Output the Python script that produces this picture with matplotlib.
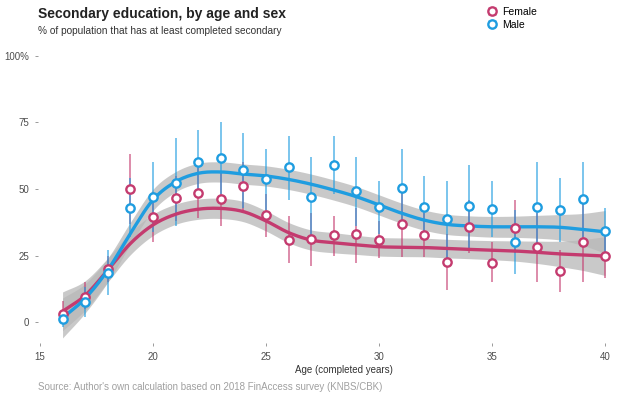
import numpy as np
import matplotlib
matplotlib.use("Agg")
import matplotlib.pyplot as plt
from matplotlib.lines import Line2D
from matplotlib.patches import Patch

plt.rcParams['font.family'] = ['Liberation Sans', 'DejaVu Sans']

# share (%) who have at least completed secondary, by age
ages = list(range(16, 41))

female_pct = [3, 9.5, 20, 50, 39.6, 46.7, 48.5, 46.4, 51.1, 40.2, 30.8, 31.1, 32.7,
              33.1, 30.8, 36.7, 32.6, 22.6, 35.8, 22.3, 35.5, 28.1, 19.3, 30.1, 24.8]
female_lo = [0, 5, 15, 37, 30, 38, 39, 36, 41.5, 32, 22, 21, 25,
             22, 24, 24.5, 24.5, 12, 26, 15, 26, 15, 11.4, 15, 16.4]
female_hi = [8, 15, 25, 63, 49, 55, 58, 56, 60, 48, 40, 41, 40,
             43, 38, 49, 41, 33, 46, 30, 46, 41, 27, 45, 33]

male_pct = [1, 7.5, 18.4, 43, 47, 52.1, 60, 61.8, 57, 53.6, 58.2, 47.1, 58.9,
            49.2, 43.3, 50.5, 43.1, 38.7, 43.6, 42.5, 30, 43.4, 42.1, 46.2, 34.1]
male_lo = [-2, 2, 10, 32, 34, 36, 48, 48, 43, 42, 46, 32, 48,
           36, 33, 37, 31, 24, 28, 32, 18, 27, 30, 32, 25]
male_hi = [4, 13, 27, 54, 60, 69, 72, 75, 71, 65, 70, 62, 70,
           62, 53, 65, 55, 53, 59, 53, 42, 60, 54, 60, 43]

# smoothed trend and its half band width
female_fit = [4, 10, 19.5, 29.5, 36.5, 40.5, 42.4, 42.7, 41.5, 38, 33.6, 30.8, 29.8,
              29, 28.3, 28.1, 28, 27.6, 27.3, 27, 26.7, 26.2, 25.6, 25.2, 24.8]
male_fit = [1.5, 8.9, 19.5, 33.3, 45.9, 52.7, 55.9, 56.4, 55.6, 54.9, 53.6, 51.8, 49.6,
            47.1, 44, 40.9, 38.3, 36.7, 36.1, 35.8, 35.8, 35.8, 35.6, 34.8, 33.9]
female_band = [7.3, 5.5, 4.5, 4.2, 4.0, 3.8, 3.8, 3.8, 3.8, 3.8, 3.8, 3.8, 3.8,
               3.6, 3.5, 3.5, 3.5, 3.5, 3.5, 3.6, 3.8, 4.2, 4.8, 5.8, 7.3]
male_band = [7.5, 5.5, 4.5, 4.2, 4.0, 3.8, 3.8, 3.8, 3.8, 3.8, 3.8, 3.8, 3.8,
             3.8, 3.8, 3.8, 3.8, 3.8, 3.8, 3.9, 4.0, 4.3, 4.8, 6.0, 8.0]

FEMALE = '#c43b6f'
MALE = '#1f9de0'


def catmull(x, y, n=15):
    # dense catmull-rom curve through the given points
    x = np.asarray(x, float)
    y = np.asarray(y, float)
    px = np.concatenate([[2*x[0]-x[1]], x, [2*x[-1]-x[-2]]])
    py = np.concatenate([[2*y[0]-y[1]], y, [2*y[-1]-y[-2]]])
    xs, ys = [], []
    t = np.linspace(0, 1, n, endpoint=False)
    for i in range(1, len(px)-2):
        for p, out in ((px, xs), (py, ys)):
            p0, p1, p2, p3 = p[i-1], p[i], p[i+1], p[i+2]
            out.append(0.5*((2*p1) + (-p0+p2)*t + (2*p0-5*p1+4*p2-p3)*t**2
                            + (-p0+3*p1-3*p2+p3)*t**3))
    xs.append([x[-1]])
    ys.append([y[-1]])
    return np.concatenate(xs), np.concatenate(ys)


fig = plt.figure(figsize=(6.42, 4.07), dpi=100)
ax = fig.add_axes([0.0587, 0.1565, 0.905, 0.7125])

for fit, band in [(female_fit, female_band), (male_fit, male_band)]:
    bx, up = catmull(ages, np.array(fit) + np.array(band))
    _, dn = catmull(ages, np.array(fit) - np.array(band))
    ax.fill_between(bx, dn, up, color='#b8b8b8', alpha=0.75, lw=0, zorder=1)

for pct, lo, hi, fit, col in [
        (female_pct, female_lo, female_hi, female_fit, FEMALE),
        (male_pct, male_lo, male_hi, male_fit, MALE)]:
    ax.vlines(ages, lo, hi, color=col, alpha=0.75, lw=1.1, zorder=2)
    sx, sy = catmull(ages, fit)
    ax.plot(sx, sy, color=col, lw=2.4, solid_capstyle='round', zorder=3)
    ax.plot(ages, pct, 'o', ms=6, mfc='white', mec=col, mew=1.7, zorder=4)

ax.set_xlim(14.9, 40.6)
ax.set_ylim(-8, 101)
ax.set_xticks([15, 20, 25, 30, 35, 40])
ax.set_yticks([0, 25, 50, 75, 100])
ax.set_yticklabels(['0', '25', '50', '75', '100%'])
ax.tick_params(colors='#8a8a8a', labelcolor='#4d4d4d', labelsize=7, length=2.5, width=0.6)
for s in ax.spines.values():
    s.set_visible(False)

fig.text(0.0587, 0.965, 'Secondary education, by age and sex', fontsize=10,
         fontweight='bold', color='#222222', va='center')
fig.text(0.0587, 0.925, '% of population that has at least completed secondary',
         fontsize=7.3, color='#333333', va='center')
fig.text(0.612, 0.09, 'Age (completed years)', fontsize=7, color='#333333',
         ha='right', va='center')
fig.text(0.0587, 0.048,
         "Source: Author's own calculation based on 2018 FinAccess survey (KNBS/CBK)",
         fontsize=7, color='#a0a0a0', va='center')

handles = [(Patch(color=FEMALE, alpha=0.25, lw=0),
            Line2D([], [], marker='o', ls='', ms=6, mfc='white', mec=FEMALE, mew=1.7)),
           (Patch(color=MALE, alpha=0.25, lw=0),
            Line2D([], [], marker='o', ls='', ms=6, mfc='white', mec=MALE, mew=1.7))]
fig.legend(handles, ['Female', 'Male'], loc='upper left', bbox_to_anchor=(0.753, 0.993),
           frameon=False, fontsize=7.5, handlelength=0.9, handleheight=0.9,
           handletextpad=0.5, labelspacing=0.25, borderaxespad=0)

fig.savefig('out.png', dpi=100)
